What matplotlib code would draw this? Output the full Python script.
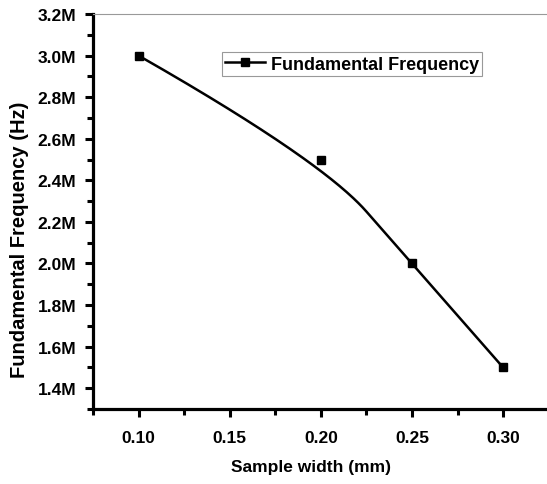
import numpy as np
import matplotlib
matplotlib.use("Agg")
import matplotlib.pyplot as plt
from matplotlib.ticker import FuncFormatter, MultipleLocator

# data
width_mm = [0.10, 0.20, 0.25, 0.30]
freq_hz = [3.0e6, 2.5e6, 2.0e6, 1.5e6]

plt.rcParams['font.family'] = ['Liberation Sans', 'DejaVu Sans']
plt.rcParams['font.weight'] = 'bold'


def bspline2(xs, ys, n=100):
    # clamped quadratic B-spline with the points as control points (Origin "B-Spline")
    p = np.column_stack([xs, ys])
    mids = (p[1:-2] + p[2:-1]) / 2
    starts = np.vstack([p[:1], mids])
    ends = np.vstack([mids, p[-1:]])
    t = np.linspace(0, 1, n)[:, None]
    out = []
    for a, c, e in zip(starts, p[1:-1], ends):
        out.append((1 - t) ** 2 * a + 2 * t * (1 - t) * c + t ** 2 * e)
    out = np.vstack(out)
    return out[:, 0], out[:, 1]


cx, cy = bspline2(width_mm, freq_hz)

fig = plt.figure(figsize=(5.47, 4.85), dpi=100)
ax = fig.add_axes([0.170, 0.1546, 0.833, 0.8144])

ax.plot(cx, cy, color="black", lw=1.8)
ax.plot(width_mm, freq_hz, "s", color="black", ms=5.5)
h, = ax.plot([], [], "-s", color="black", lw=1.8, ms=5.5)

ax.set_xlim(0.075, 0.325)
ax.set_ylim(1.3e6, 3.2e6)
ax.xaxis.set_major_locator(MultipleLocator(0.05))
ax.xaxis.set_minor_locator(MultipleLocator(0.025))
ax.yaxis.set_major_locator(MultipleLocator(0.2e6))
ax.yaxis.set_minor_locator(MultipleLocator(0.1e6))
ax.xaxis.set_major_formatter(FuncFormatter(lambda v, p: f"{v:.2f}"))
ax.yaxis.set_major_formatter(FuncFormatter(lambda v, p: f"{v / 1e6:.1f}M"))

for s in ["left", "bottom"]:
    ax.spines[s].set_linewidth(2.3)
ax.spines["top"].set_linewidth(0.8)
ax.spines["top"].set_color("#999999")
ax.spines["right"].set_visible(False)

ax.tick_params(which="major", direction="out", length=6, width=2.2, labelsize=12.5)
ax.tick_params(which="minor", direction="out", length=4, width=2.2)
ax.tick_params(axis="x", pad=9)
ax.tick_params(axis="y", pad=6)

ax.set_xlabel("Sample width (mm)", fontsize=12.5, fontweight="bold")
ax.set_ylabel("Fundamental Frequency (Hz)", fontsize=14.5, fontweight="bold")
ax.xaxis.set_label_coords(0.479, -57 / 395, transform=ax.transAxes)
ax.yaxis.set_label_coords(-73 / 455, 0.43, transform=ax.transAxes)
ax.xaxis.label.set_va("center")
ax.yaxis.label.set_va("center")

leg = ax.legend([h], ["Fundamental Frequency"], loc="center",
                bbox_to_anchor=(352 / 547, 1 - 65 / 485), bbox_transform=fig.transFigure,
                fancybox=False, framealpha=1, edgecolor="#999999", fontsize=13,
                handlelength=2.2, handletextpad=0.3, borderpad=0.2, borderaxespad=0)
leg.get_frame().set_linewidth(0.8)

fig.savefig("out.png", dpi=100)
